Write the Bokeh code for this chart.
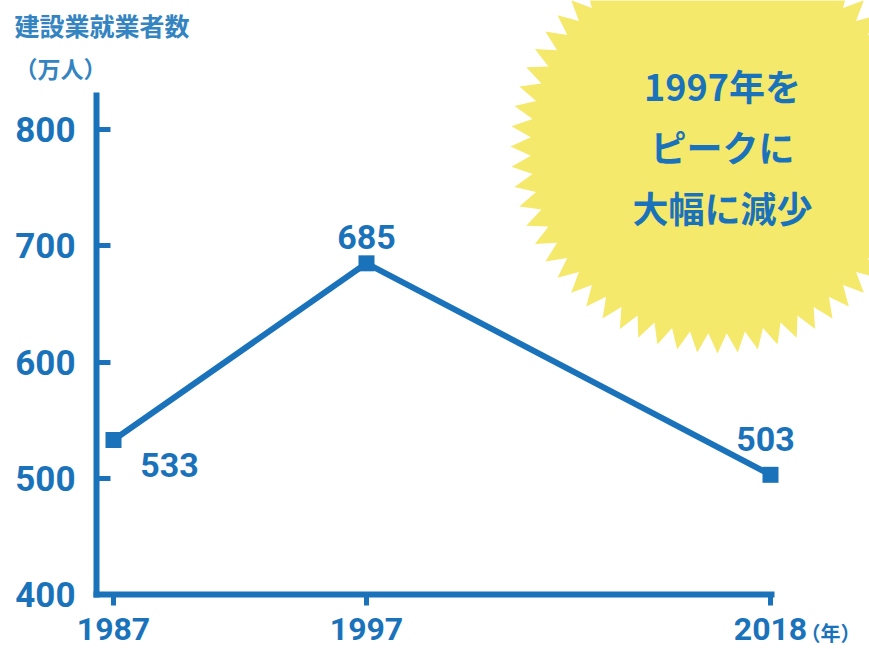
import numpy as np
from bokeh.plotting import figure
from bokeh.models import FactorRange, Range1d, FixedTicker, Label, PolyAnnotation, ColumnDataSource
from bokeh.core.properties import value
from bokeh.embed import file_html
from bokeh.resources import INLINE

# ---- data ----
years = ["1987", "1997", "2018"]
groups = ["", "", " "]          # second group opens the wider 1997-2018 gap
workers = [533, 685, 503]       # 建設業就業者数（万人）
value_labels = ["533", "685", "503"]
y_ticks = [400, 500, 600, 700, 800]
title_text = "建設業就業者数"
unit_text = "（万人）"
year_unit = "（年）"
callout_lines = ["1997年を", "ピークに", "大幅に減少"]

BLUE = "#1a73ba"
LIGHT_BLUE = "#3484c2"
YELLOW = "#f5e96c"
NUM = "Roboto"
CJK = "Noto Sans CJK JP"

# ---- layout constants (pixels) ----
W, H = 869, 649
LEFT = 14                 # frame starts here; axes are placed inside with fixed_location
STEP = 253.0              # px between 1987 and 1997
GAP = 404.0               # px between 1997 and 2018
MARGIN = (W - LEFT - STEP - GAP) / 2.0   # px from frame edge to first / last category
AXIS_GAP = 17.0           # px from y-axis line to first category
Y_PX = 1.162              # px per 万人
Y_BASE_PX = 594           # canvas y of the 400 baseline
Y_TOP = 400 + (Y_BASE_PX - 95) / Y_PX

gp = GAP / STEP - 1.0
pad = MARGIN / STEP - 0.5
yaxis_at = 0.5 - AXIS_GAP / STEP
last_cat = 2.5 + gp

factors = list(zip(groups, years))
x_range = FactorRange(factors=factors, factor_padding=0.0, group_padding=gp,
                      range_padding=pad, range_padding_units="absolute")
y_range = Range1d(400 - (H - Y_BASE_PX) / Y_PX, 400 + Y_BASE_PX / Y_PX)

p = figure(width=W, height=H, x_range=x_range, y_range=y_range,
           output_backend="svg", toolbar_location=None, min_border=0)
p.min_border_left = LEFT
p.outline_line_color = None
p.grid.grid_line_color = None
p.background_fill_color = "white"
p.border_fill_color = "white"

# star burst callout
cx, cy, R, r, n = 717, 146, 207, 187, 64
ang = np.linspace(0, 2 * np.pi, 2 * n, endpoint=False)
rad = np.where(np.arange(2 * n) % 2 == 0, R, r)
star = PolyAnnotation(xs=list(cx + rad * np.cos(ang)), ys=list(cy + rad * np.sin(ang)),
                      xs_units="canvas", ys_units="canvas",
                      fill_color=YELLOW, fill_alpha=1.0, line_color=None, level="underlay")
p.add_layout(star)
for i, t in enumerate(callout_lines):
    p.add_layout(Label(x=722, y=84 + 61 * i, x_units="canvas", y_units="canvas", text=t,
                       text_font=CJK, text_font_size="36px", text_font_style="bold",
                       text_color=BLUE, text_align="center", text_baseline="middle"))

# titles
p.add_layout(Label(x=LEFT, y=24, x_units="canvas", y_units="canvas", text=title_text,
                   text_font=CJK, text_font_size="25px", text_font_style="bold",
                   text_color=LIGHT_BLUE, text_align="left", text_baseline="middle"))
p.add_layout(Label(x=LEFT, y=67, x_units="canvas", y_units="canvas", text=unit_text,
                   text_font=CJK, text_font_size="23px", text_font_style="bold",
                   text_color=LIGHT_BLUE, text_align="left", text_baseline="middle"))
p.add_layout(Label(x=800, y=632, x_units="canvas", y_units="canvas", text=year_unit,
                   text_font=CJK, text_font_size="20px", text_font_style="bold",
                   text_color=BLUE, text_align="left", text_baseline="middle"))

src = ColumnDataSource(dict(x=factors, y=workers, lab=value_labels,
                            dx=[56, 0, -5], dy=[25, -26, -36]))
p.line("x", "y", source=src, line_color=BLUE, line_width=6)
p.scatter("x", "y", source=src, marker="square", size=16, fill_color=BLUE, line_color=None)
p.text("x", "y", text="lab", source=src, x_offset="dx", y_offset="dy",
       text_font=value(NUM), text_font_size="34px", text_font_style="bold",
       text_color=BLUE, text_align="center", text_baseline="middle")

# axes (placed inside the frame so the canvas margins stay free for the callout)
ya = p.yaxis[0]
ya.fixed_location = yaxis_at
ya.bounds = (400, Y_TOP)
ya.ticker = FixedTicker(ticks=y_ticks)
ya.axis_line_color = BLUE
ya.axis_line_width = 6
ya.axis_line_cap = "square"
ya.major_tick_in = 14
ya.major_tick_out = 0
ya.major_tick_line_color = BLUE
ya.major_tick_line_width = 5
ya.minor_tick_line_color = None
ya.major_label_text_font = NUM
ya.major_label_text_font_size = "35px"
ya.major_label_text_font_style = "bold"
ya.major_label_text_color = BLUE
ya.major_label_standoff = 21

xa = p.xaxis[0]
xa.fixed_location = 400
xa.bounds = (yaxis_at, last_cat + 0.004)
xa.axis_line_color = BLUE
xa.axis_line_width = 6
xa.axis_line_cap = "square"
xa.major_tick_in = 0
xa.major_tick_out = 11
xa.major_tick_line_color = BLUE
xa.major_tick_line_width = 5
xa.major_label_text_font = NUM
xa.major_label_text_font_size = "32px"
xa.major_label_text_font_style = "bold"
xa.major_label_text_color = BLUE
xa.major_label_standoff = 12
xa.group_text_font_size = "0px"
xa.group_text_color = None
xa.separator_line_color = None

open("out.html", "w").write(file_html(p, INLINE))
